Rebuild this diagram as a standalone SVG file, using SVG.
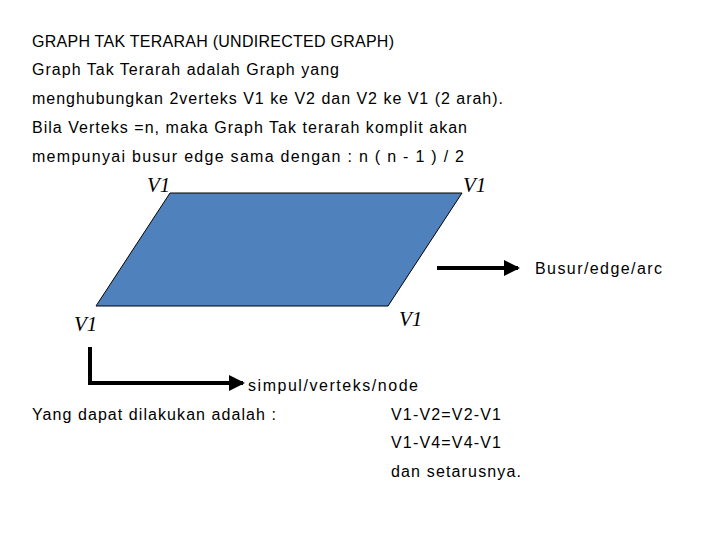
<svg xmlns="http://www.w3.org/2000/svg" width="720" height="540" viewBox="0 0 720 540">
<style>
.t{font-family:"Liberation Sans",Arial,sans-serif;font-size:16px;fill:#000}
.v{font-family:"Liberation Serif","Times New Roman",serif;font-style:italic;font-size:21px;fill:#000}
.c{stroke:#000;stroke-width:4;fill:none}
</style>
<defs><marker id="ah" markerWidth="4" markerHeight="4" refX="3.5" refY="2" orient="auto" markerUnits="strokeWidth"><path d="M0,0 L4,2 L0,4 Z" fill="#000"/></marker></defs>
<rect width="720" height="540" fill="#fff"/>
<text class="t" x="32" y="47" textLength="362">GRAPH TAK TERARAH (UNDIRECTED GRAPH)</text>
<text class="t" x="32" y="75" textLength="307">Graph Tak Terarah adalah Graph yang</text>
<text class="t" x="32" y="104" textLength="471">menghubungkan 2verteks V1 ke V2 dan V2 ke V1 (2 arah).</text>
<text class="t" x="32" y="133" textLength="435">Bila Verteks =n, maka Graph Tak terarah komplit akan</text>
<text class="t" x="32" y="162" textLength="432">mempunyai busur edge sama dengan :   n ( n - 1 ) / 2</text>
<g id="graph">
<polygon points="170,193 462,193 388,306 96,306" fill="#4f81bd" stroke="#000" stroke-width="1"/>
</g>
<g id="v-tl"><text class="v" x="147" y="192">V1</text></g>
<g id="v-tr"><text class="v" x="463" y="192">V1</text></g>
<g id="v-bl"><text class="v" x="74" y="331">V1</text></g>
<g id="v-br"><text class="v" x="399" y="326">V1</text></g>
<g id="connectors">
<path class="c" d="M437,268 H518" marker-end="url(#ah)"/>
<path class="c" d="M90,347 V383 H243" marker-end="url(#ah)"/>
</g>
<text class="t" x="535" y="274" textLength="127">Busur/edge/arc</text>
<text class="t" x="248" y="391" textLength="170">simpul/verteks/node</text>
<text class="t" x="32" y="420" textLength="244">Yang dapat dilakukan adalah :</text>
<text class="t" x="391" y="420" textLength="110">V1-V2=V2-V1</text>
<text class="t" x="391" y="448" textLength="110">V1-V4=V4-V1</text>
<text class="t" x="391" y="477" textLength="130">dan setarusnya.</text>
</svg>
